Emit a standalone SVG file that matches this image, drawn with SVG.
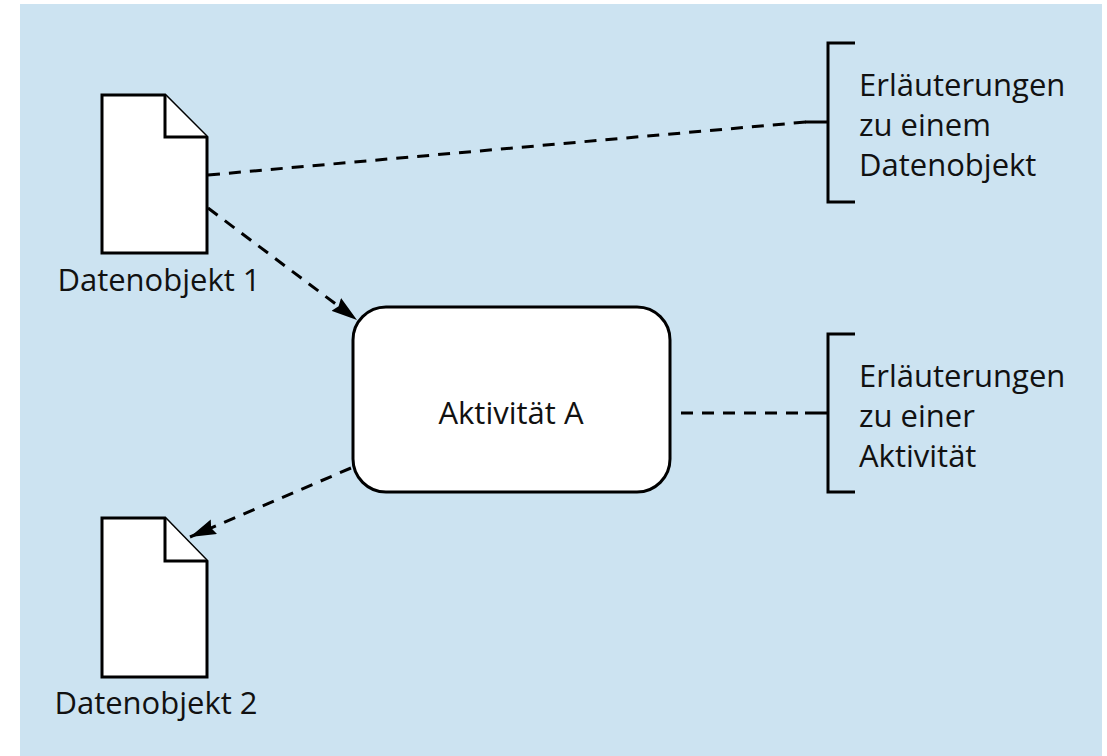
<svg xmlns="http://www.w3.org/2000/svg" width="1107" height="756" viewBox="0 0 1107 756">
  <defs>
    <style>
      .bg { fill: #cce3f1; }
      .doc { fill: #ffffff; stroke: #000000; stroke-width: 3; stroke-linejoin: miter; }
      .box { fill: #ffffff; stroke: #000000; stroke-width: 3; }
      .dash { fill: none; stroke: #000000; stroke-width: 3; stroke-dasharray: 12 9; }
      .solid { fill: none; stroke: #000000; stroke-width: 3; }
      .lbl { font-family: "Open Sans", "Liberation Sans", sans-serif; font-size: 31px; fill: #111111; }
    </style>
    <marker id="arrow" viewBox="0 0 26 16" refX="26" refY="8" markerWidth="26" markerHeight="16" markerUnits="userSpaceOnUse" orient="auto">
      <path d="M0,0 L26,8 L0,16 L3,8 Z" fill="#000000"/>
    </marker>
  </defs>
  <rect class="bg" x="20" y="4" width="1082" height="752"/>

  <g id="connectors">
    <line class="dash" x1="208" y1="175" x2="806" y2="122"/>
    <line class="dash" x1="208" y1="208" x2="357" y2="320" marker-end="url(#arrow)"/>
    <line class="dash" x1="351" y1="468" x2="190" y2="537" marker-end="url(#arrow)"/>
    <line class="dash" x1="681" y1="413" x2="806" y2="413"/>
  </g>

  <g id="datenobjekt1">
    <path class="doc" d="M102,95 L165,95 L207,137 L207,253 L102,253 Z"/>
    <path class="doc" d="M165,95 L165,137 L207,137"/>
    <text class="lbl" x="159" y="291" text-anchor="middle">Datenobjekt 1</text>
  </g>

  <g id="datenobjekt2">
    <path class="doc" d="M102,518 L165,518 L207,561 L207,677 L102,677 Z"/>
    <path class="doc" d="M165,518 L165,561 L207,561"/>
    <text class="lbl" x="156" y="714" text-anchor="middle">Datenobjekt 2</text>
  </g>

  <g id="aktivitaetA">
    <rect class="box" x="353" y="307" width="317" height="185" rx="33" ry="33"/>
    <text class="lbl" x="511" y="424" text-anchor="middle">Aktivität A</text>
  </g>

  <g id="anmerkung1">
    <path class="solid" d="M855,43 L828,43 L828,202 L855,202 M805,122 L828,122"/>
    <text class="lbl" x="859" y="96">Erläuterungen</text>
    <text class="lbl" x="859" y="136">zu einem</text>
    <text class="lbl" x="859" y="176">Datenobjekt</text>
  </g>

  <g id="anmerkung2">
    <path class="solid" d="M855,334 L828,334 L828,492 L855,492 M805,413 L828,413"/>
    <text class="lbl" x="859" y="387">Erläuterungen</text>
    <text class="lbl" x="859" y="427">zu einer</text>
    <text class="lbl" x="859" y="467">Aktivität</text>
  </g>
</svg>
